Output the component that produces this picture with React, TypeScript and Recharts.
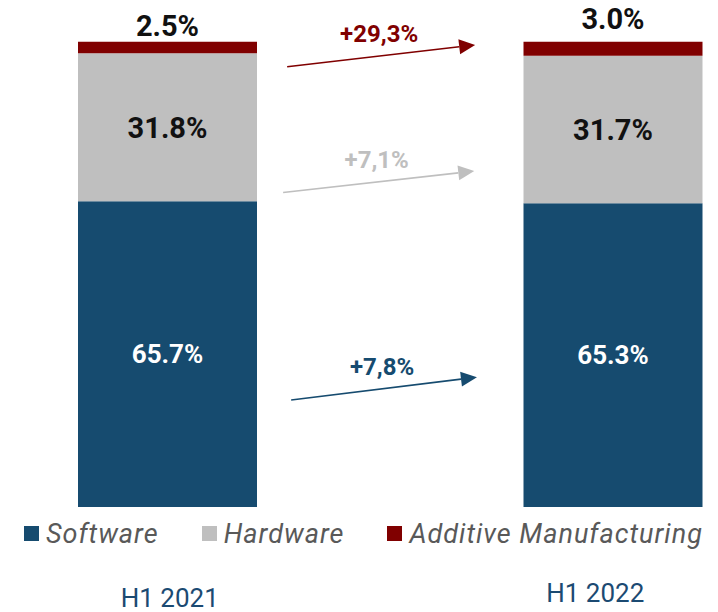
import {
  Bar,
  BarChart,
  LabelList,
  Legend,
  ReferenceLine,
  XAxis,
  YAxis,
} from "recharts";

const categories = ["H1 2021", "H1 2022"];
const software = [65.7, 65.3];
const hardware = [31.8, 31.7];
const additive = [2.5, 3.0];

// growth arrows between the two bars:
// [fraction of the way from the 2021 bar centre to the 2022 bar centre, share %]
const growthLabels = ["+7,8%", "+7,1%", "+29,3%"];
const arrowFrom = [
  [0.277, 23.0],
  [0.259, 67.6],
  [0.268, 94.6],
];
const arrowTo = [
  [0.694, 27.9],
  [0.688, 72.2],
  [0.69, 99.3],
];

const series = [
  { key: "software", name: "Software", color: "#164B6F" },
  { key: "hardware", name: "Hardware", color: "#BFBFBF" },
  { key: "additive", name: "Additive Manufacturing", color: "#800000" },
];
const arrowColors = ["#164B6F", "#BFBFBF", "#800000"];

const rows = categories.map((name, i) => ({
  name,
  software: software[i],
  hardware: hardware[i],
  additive: additive[i],
}));

const font = "Roboto, sans-serif";

function InsideLabel(props: any) {
  const { x, y, width, height, value, color, size } = props;
  const cx = Number(x) + Number(width) / 2;
  const cy = Number(y) + Number(height) / 2 + size * 0.355;
  return (
    <text
      x={cx}
      y={cy}
      textAnchor="middle"
      fill={color}
      fontFamily={font}
      fontWeight={700}
      fontSize={size}
    >
      {Number(value).toFixed(1)}%
    </text>
  );
}

function TopLabel(props: any) {
  const { x, y, width, value, index } = props;
  const lift = index === 0 ? 6 : 13;
  return (
    <text
      x={Number(x) + Number(width) / 2}
      y={Number(y) - lift}
      textAnchor="middle"
      fill="#111"
      fontFamily={font}
      fontWeight={700}
      fontSize={29}
    >
      {Number(value).toFixed(1)}%
    </text>
  );
}

function Arrow(props: any) {
  const { color, label, t0, t1 } = props;
  const ax = Number(props.x1);
  const bx0 = Number(props.x2);
  const x1 = ax + t0 * (bx0 - ax);
  const x2 = ax + t1 * (bx0 - ax);
  const y1 = Number(props.y1);
  const y2 = Number(props.y2);
  const len = Math.hypot(x2 - x1, y2 - y1) || 1;
  const ux = (x2 - x1) / len;
  const uy = (y2 - y1) / len;
  const head = 16;
  const half = 7.5;
  const bx = x2 - ux * head;
  const by = y2 - uy * head;
  const pts = `${x2},${y2} ${bx - uy * half},${by + ux * half} ${bx + uy * half},${by - ux * half}`;
  return (
    <g>
      <line x1={x1} y1={y1} x2={bx} y2={by} stroke={color} strokeWidth={1.6} />
      <polygon points={pts} fill={color} />
      <text
        x={(x1 + x2) / 2 - 2}
        y={(y1 + y2) / 2 - 14}
        textAnchor="middle"
        fill={color}
        fontFamily={font}
        fontWeight={700}
        fontSize={24}
      >
        {label}
      </text>
    </g>
  );
}

function CategoryTick(props: any) {
  const { x, y, payload, index } = props;
  const dx = index === 0 ? 2 : -18;
  const dy = index === 0 ? 100 : 95;
  return (
    <text
      x={Number(x) + dx}
      y={Number(y) + dy}
      textAnchor="middle"
      fill="#1B4A72"
      fontFamily={font}
      fontSize={26}
    >
      {payload.value}
    </text>
  );
}

function LegendRow() {
  return (
    <div
      style={{
        display: "flex",
        alignItems: "center",
        height: 30,
        fontFamily: font,
        fontStyle: "italic",
        fontSize: 27,
        letterSpacing: 1,
        color: "#595959",
        whiteSpace: "nowrap",
      }}
    >
      {series.map((s, i) => (
        <div
          key={s.key}
          style={{
            display: "flex",
            alignItems: "center",
            marginRight: i < series.length - 1 ? 43 : 0,
          }}
        >
          <span
            style={{
              display: "inline-block",
              width: 15,
              height: 15,
              background: s.color,
              marginRight: 7,
            }}
          />
          <span>{s.name}</span>
        </div>
      ))}
    </div>
  );
}

export default function App() {
  return (
    <div
      style={{
        position: "absolute",
        left: 0,
        top: 0,
        width: 718,
        height: 612,
        overflow: "hidden",
        background: "#fff",
      }}
    >
      <div style={{ position: "absolute", left: -55, top: 0 }}>
        <BarChart
          width={891}
          height={612}
          data={rows}
          margin={{ top: 41.7, right: 0, bottom: 0, left: 0 }}
        >
          <XAxis
            dataKey="name"
            axisLine={false}
            tickLine={false}
            tickSize={0}
            tickMargin={0}
            height={105}
            interval={0}
            tick={<CategoryTick />}
          />
          <YAxis hide domain={[0, 100]} />
          <Legend
            layout="horizontal"
            verticalAlign="middle"
            align="center"
            content={<LegendRow />}
            wrapperStyle={{ top: 518.5, left: 79, width: 720, height: 30 }}
          />
          <Bar
            dataKey="software"
            name="Software"
            stackId="a"
            fill={series[0].color}
            barSize={179}
            isAnimationActive={false}
          >
            <LabelList
              dataKey="software"
              content={<InsideLabel color="#ffffff" size={26} />}
            />
          </Bar>
          <Bar
            dataKey="hardware"
            name="Hardware"
            stackId="a"
            fill={series[1].color}
            barSize={179}
            isAnimationActive={false}
          >
            <LabelList
              dataKey="hardware"
              content={<InsideLabel color="#111111" size={29} />}
            />
          </Bar>
          <Bar
            dataKey="additive"
            name="Additive Manufacturing"
            stackId="a"
            fill={series[2].color}
            barSize={179}
            isAnimationActive={false}
          >
            <LabelList dataKey="additive" content={<TopLabel />} />
          </Bar>
          {growthLabels.map((label, i) => (
            <ReferenceLine
              key={label}
              ifOverflow="visible"
              segment={[
                { x: categories[0], y: arrowFrom[i][1] },
                { x: categories[1], y: arrowTo[i][1] },
              ]}
              shape={(p: any) => (
                <Arrow
                  {...p}
                  t0={arrowFrom[i][0]}
                  t1={arrowTo[i][0]}
                  color={arrowColors[i]}
                  label={label}
                />
              )}
            />
          ))}
        </BarChart>
      </div>
    </div>
  );
}
